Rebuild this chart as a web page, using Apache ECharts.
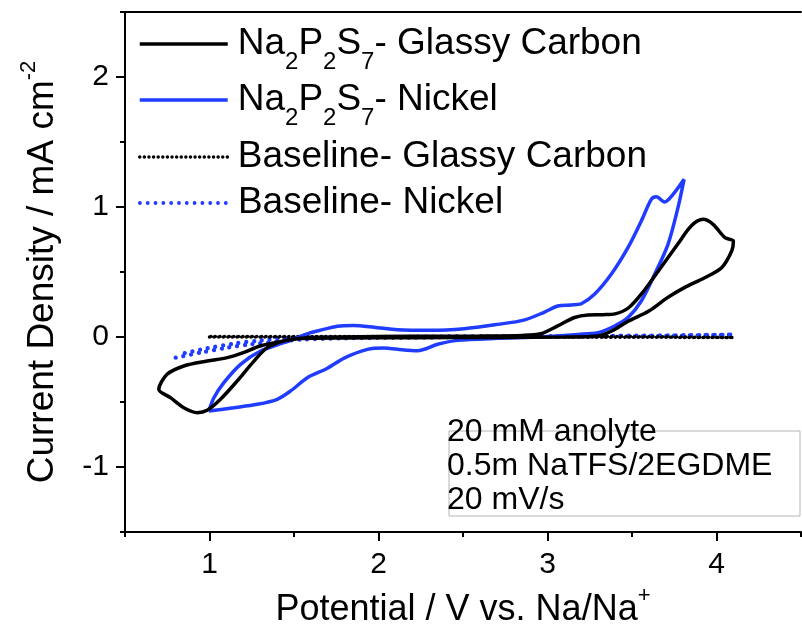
<!DOCTYPE html>
<html><head><meta charset="utf-8">
<script src="https://cdn.jsdelivr.net/npm/echarts@6/dist/echarts.min.js"></script>
<style>html,body{margin:0;padding:0;background:#fff}#c{width:802px;height:634px}</style>
</head><body><div id="c"></div>
<script>
// ---- data (Potential V vs Na/Na+, Current density mA cm^-2) ----
const xTickValues = [1, 2, 3, 4];
const xMinorTicks = [0.5, 1.5, 2.5, 3.5, 4.5];
const yTickValues = [-1, 0, 1, 2];
const yMinorTicks = [-1.5, -0.5, 0.5, 1.5, 2.5];

const seriesNames = ['Na2P2S7- Glassy Carbon', 'Na2P2S7- Nickel', 'Baseline- Glassy Carbon', 'Baseline- Nickel'];

const gcPotential = [1.54, 1.8, 2.2, 2.6, 2.85, 2.96, 3.06, 3.16, 3.24, 3.33, 3.40, 3.48, 3.57, 3.67, 3.77, 3.85, 3.92, 3.98, 4.05, 4.10,
  4.09, 4.03, 3.93, 3.81, 3.71, 3.60, 3.48, 3.38, 3.30, 3.1, 2.7, 2.2, 1.8, 1.54,
  1.44, 1.30, 1.20, 1.105, 0.986, 0.848, 0.749, 0.70,
  0.769, 0.848, 0.927, 0.986, 1.065, 1.164, 1.263, 1.342, 1.44, 1.54];
const gcCurrent = [-0.01, 0.0, 0.005, 0.008, 0.012, 0.025, 0.085, 0.15, 0.17, 0.172, 0.178, 0.225, 0.354, 0.533, 0.713, 0.854, 0.905, 0.867, 0.764, 0.738,
  0.662, 0.533, 0.456, 0.38, 0.303, 0.2, 0.123, 0.046, 0.008, 0.0, -0.003, -0.005, -0.008, -0.012,
  -0.03, -0.069, -0.12, -0.159, -0.185, -0.223, -0.287, -0.402,
  -0.467, -0.544, -0.582, -0.564, -0.479, -0.338, -0.185, -0.082, -0.03, -0.01];

const niPotential = [0.996, 1.144, 1.283, 1.401, 1.48, 1.579, 1.698, 1.80, 1.935, 2.033, 2.113, 2.231, 2.35, 2.468, 2.705, 2.94, 3.18, 3.298, 3.397, 3.476, 3.555, 3.634, 3.713, 3.772, 3.808,
  3.743, 3.693, 3.644, 3.614, 3.555, 3.476, 3.377, 3.278, 3.20, 3.14, 3.061, 2.98, 2.86, 2.705, 2.507, 2.31, 2.113, 1.974, 1.85, 1.757, 1.65, 1.599, 1.44, 1.302, 1.184, 1.085, 1.026, 0.996];
const niCurrent = [-0.569, -0.544, -0.518, -0.479, -0.415, -0.313, -0.24, -0.16, -0.095, -0.085, -0.095, -0.105, -0.056, -0.026, -0.01, 0.0, 0.02, 0.033, 0.085, 0.149, 0.277, 0.482, 0.713, 0.995, 1.213,
  1.097, 1.038, 1.079, 1.059, 0.892, 0.687, 0.482, 0.328, 0.256, 0.246, 0.238, 0.19, 0.13, 0.097, 0.064, 0.051, 0.055, 0.075, 0.088, 0.083, 0.05, 0.033, -0.044, -0.108, -0.21, -0.351, -0.467, -0.569];

const gcBasePotential = [1.0, 1.5, 2.0, 2.5, 3.0, 3.5, 4.1, 4.1, 3.5, 3.0, 2.0, 1.0];
const gcBaseCurrent = [0.0, 0.0, 0.0, 0.0, 0.0, -0.002, -0.004, 0.0, 0.003, 0.004, 0.004, 0.003];

const niBasePotential = [0.80, 0.947, 1.105, 1.243, 1.401, 1.54, 1.8, 2.2, 2.8, 3.5, 4.1, 3.5, 2.8, 2.2, 1.8, 1.48, 1.302, 1.144, 0.986, 0.838];
const niBaseCurrent = [-0.159, -0.12, -0.082, -0.056, -0.036, -0.02, -0.01, -0.005, 0.0, 0.005, 0.018, 0.01, 0.006, 0.002, -0.003, -0.005, -0.026, -0.051, -0.087, -0.128];

const zip = (a, b) => a.map((v, i) => [v, b[i]]);

const FONT = 'Liberation Sans, Arial, sans-serif';
const BLUE = '#1f3cff';

const lineStyles = [
  {color: '#000', width: 3.5},
  {color: BLUE, width: 3.5},
  {color: '#000', width: 3.5, type: [0.01, 4.6], cap: 'round'},
  {color: BLUE, width: 4.3, type: [0.01, 7.8], cap: 'round'}
];

const legendLabels = {
  'Na2P2S7- Glassy Carbon': '{n|Na}{s|2}{n|P}{s|2}{n|S}{s|7}{n|- Glassy Carbon}',
  'Na2P2S7- Nickel': '{n|Na}{s|2}{n|P}{s|2}{n|S}{s|7}{n|- Nickel}',
  'Baseline- Glassy Carbon': '{n|Baseline- Glassy Carbon}',
  'Baseline- Nickel': '{n|Baseline- Nickel}'
};
const legendRich = {
  n: {fontSize: 37, lineHeight: 60, verticalAlign: 'middle', fontFamily: FONT, color: '#000'},
  s: {fontSize: 24, lineHeight: 26, verticalAlign: 'bottom', fontFamily: FONT, color: '#000'}
};
const legendCenters = [44, 100, 157, 203];

const chart = echarts.init(document.getElementById('c'), null, {renderer: 'canvas'});

const axisLineStyle = {color: '#000', width: 2};

const option = {
  animation: false,
  backgroundColor: '#fff',
  textStyle: {fontFamily: FONT, color: '#000'},
  grid: {left: 125, right: 1, top: 12, bottom: 102, containLabel: false, outerBoundsMode: 'none'},
  legend: seriesNames.map((nm, i) => ({
    data: [nm],
    left: 138,
    top: legendCenters[i] - 30,
    padding: 0,
    itemWidth: 88,
    itemHeight: 20,
    selectedMode: false,
    itemStyle: {color: 'rgba(0,0,0,0)', borderColor: 'rgba(0,0,0,0)', borderWidth: 0, opacity: 0},
    lineStyle: Object.assign({}, lineStyles[i], {opacity: 1}, i === 3 ? {width: 3.8} : {}),
    formatter: name => legendLabels[name],
    textStyle: {fontFamily: FONT, fontSize: 37, lineHeight: 60, color: '#000', rich: legendRich, padding: [0, 0, 0, 5]}
  })),
  xAxis: [
    {
      type: 'value', min: 0.5, max: 4.5, position: 'bottom',
      axisLine: {show: true, onZero: false, lineStyle: axisLineStyle},
      axisTick: {show: true, customValues: xTickValues, length: 9, lineStyle: axisLineStyle},
      axisLabel: {customValues: xTickValues, formatter: v => String(v), fontSize: 30, color: '#000', margin: 18, fontFamily: FONT},
      splitLine: {show: false},
      name: '{n|Potential / V vs. Na/Na}{p|+}',
      nameLocation: 'middle', nameGap: 52,
      nameTextStyle: {fontFamily: FONT, fontSize: 36, lineHeight: 50, color: '#000',
        rich: {n: {fontSize: 36, lineHeight: 50, verticalAlign: 'middle', fontFamily: FONT, color: '#000'},
               p: {fontSize: 22, lineHeight: 24, verticalAlign: 'top', fontFamily: FONT, color: '#000'}}}
    },
    {
      type: 'value', min: 0.5, max: 4.5, position: 'bottom',
      axisLine: {show: false, onZero: false},
      axisTick: {show: true, customValues: xMinorTicks, length: 5, lineStyle: axisLineStyle},
      axisLabel: {show: false},
      splitLine: {show: false}
    },
    {
      type: 'value', min: 0.5, max: 4.5, position: 'top',
      axisLine: {show: true, onZero: false, lineStyle: axisLineStyle},
      axisTick: {show: false}, axisLabel: {show: false}, splitLine: {show: false}
    }
  ],
  yAxis: [
    {
      type: 'value', min: -1.5, max: 2.5, position: 'left',
      axisLine: {show: true, onZero: false, lineStyle: axisLineStyle},
      axisTick: {show: true, customValues: yTickValues, length: 9, lineStyle: axisLineStyle},
      axisLabel: {customValues: yTickValues, formatter: v => String(v), fontSize: 30, color: '#000', margin: 16, fontFamily: FONT},
      splitLine: {show: false},
      name: '{n|Current Density / mA cm}{p|-2}',
      nameLocation: 'middle', nameGap: 57,
      nameTextStyle: {fontFamily: FONT, fontSize: 37, lineHeight: 50, color: '#000',
        rich: {n: {fontSize: 37, lineHeight: 50, verticalAlign: 'middle', fontFamily: FONT, color: '#000'},
               p: {fontSize: 22, lineHeight: 24, verticalAlign: 'top', fontFamily: FONT, color: '#000'}}}
    },
    {
      type: 'value', min: -1.5, max: 2.5, position: 'left',
      axisLine: {show: false, onZero: false},
      axisTick: {show: true, customValues: yMinorTicks, length: 5, lineStyle: axisLineStyle},
      axisLabel: {show: false},
      splitLine: {show: false}
    }
  ],
  graphic: [
    {type: 'rect', shape: {x: 449, y: 431, width: 351, height: 85}, style: {fill: 'none', stroke: '#b4b4b4', lineWidth: 1}, z: 10},
    {type: 'text', x: 447, y: 415, style: {text: '20 mM anolyte\n0.5m NaTFS/2EGDME\n20 mV/s', fontSize: 32, lineHeight: 34, fontFamily: FONT, fill: '#000'}, z: 11}
  ],
  series: [
    {name: seriesNames[0], type: 'line', data: zip(gcPotential, gcCurrent), showSymbol: false, symbol: 'none', smooth: 0.3,
     lineStyle: lineStyles[0], itemStyle: {color: '#000'}, z: 4},
    {name: seriesNames[1], type: 'line', data: zip(niPotential, niCurrent), showSymbol: false, symbol: 'none', smooth: 0.3,
     lineStyle: lineStyles[1], itemStyle: {color: BLUE}, z: 3},
    {name: seriesNames[2], type: 'line', data: zip(gcBasePotential, gcBaseCurrent), showSymbol: false, symbol: 'none', smooth: 0.3,
     lineStyle: lineStyles[2], itemStyle: {color: '#000'}, z: 2},
    {name: seriesNames[3], type: 'line', data: zip(niBasePotential, niBaseCurrent), showSymbol: false, symbol: 'none', smooth: 0.3,
     lineStyle: lineStyles[3], itemStyle: {color: BLUE}, z: 1}
  ]
};
chart.setOption(option);
</script>
</body></html>
